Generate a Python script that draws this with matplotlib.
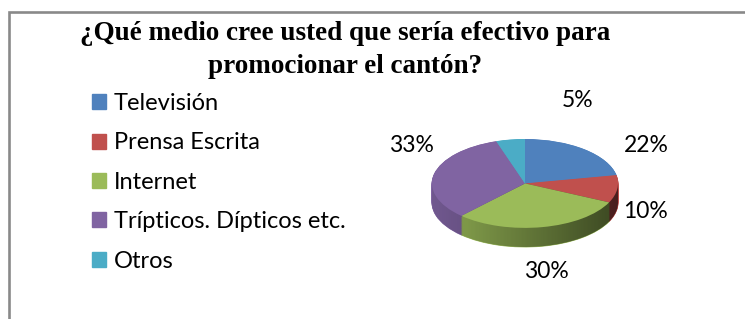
import matplotlib.pyplot as plt
import matplotlib.patches as mpatches
from matplotlib.path import Path
import numpy as np

# data
categorias = ['Televisión', 'Prensa Escrita', 'Internet', 'Trípticos. Dípticos etc.', 'Otros']
porcentajes = [22, 10, 30, 33, 5]
colores = ['#4F81BD', '#C0504D', '#9BBB59', '#8064A2', '#4BACC6']
titulo = '¿Qué medio cree usted que sería efectivo para\npromocionar el cantón?'

# label positions in pie units (layout only)
pos_etiquetas = [(1.30, 0.86), (1.30, -0.64), (0.23, -1.98), (-1.22, 0.86), (0.57, 1.86)]

fig = plt.figure(figsize=(7.45, 3.19), dpi=100)

# outer frame
fig.patches.append(mpatches.Rectangle((8.5 / 745, -0.2), 1.2, (319 - 11.5) / 319 + 0.2,
                                      transform=fig.transFigure, fill=False,
                                      edgecolor='#898989', linewidth=1.9))

fig.text(345 / 745, 1 - 50 / 319, titulo, ha='center', va='center', fontsize=19.5,
         fontweight='bold', family='Liberation Serif', linespacing=1.4)

# 3d-ish pie: ellipse axes
profundidad = 0.43
ax = fig.add_axes([432 / 745, (319 - 247) / 319, 186 / 745, 108 / 319])

capas = 30
for i in range(capas):
    cy = -profundidad + profundidad * i / capas
    ax.pie(porcentajes, colors=colores, startangle=90, counterclock=False,
           center=(0, cy), radius=1, wedgeprops=dict(linewidth=0.6))
    for w in ax.patches[-len(porcentajes):]:
        w.set_edgecolor(w.get_facecolor())

# shading of the side, lighter on the left, darker on the right
xs = np.linspace(-1, 1, 200)
alfa = np.interp(xs, [-1, -0.6, 1], [0.12, 0.2, 0.62])
grad = np.zeros((2, len(xs), 4))
grad[..., 3] = alfa
img = ax.imshow(grad, extent=(-1, 1, -1 - profundidad, 0), aspect='auto', zorder=1.5,
                interpolation='bilinear')
arc = np.linspace(0, np.pi, 100)
verts = [(-1, 0), (1, 0)] + [(np.cos(a), -profundidad - np.sin(a)) for a in arc] + [(-1, 0)]
clip = mpatches.PathPatch(Path(verts), transform=ax.transData, visible=False)
ax.add_patch(clip)
img.set_clip_path(clip)

wedges, textos, autot = ax.pie(porcentajes, colors=colores, startangle=90, counterclock=False,
                               center=(0, 0), radius=1, autopct='%d%%',
                               wedgeprops=dict(linewidth=0, zorder=2),
                               textprops=dict(fontsize=16.5, family='Lato', color='black'))
for t, p in zip(autot, pos_etiquetas):
    t.set_position(p)
    t.set_clip_on(False)

ax.set_aspect('auto')
ax.set_xlim(-1, 1)
ax.set_ylim(-1 - profundidad, 1)
ax.axis('off')

# legend
handles = [mpatches.Patch(color=c, label=l) for c, l in zip(colores, categorias)]
fig.legend(handles=handles, loc='upper left', bbox_to_anchor=(92 / 745, 1 - 93 / 319),
           frameon=False, prop=dict(family='Lato', size=17),
           handlelength=0.6, handleheight=0.6, handletextpad=0.33,
           labelspacing=0.78, borderpad=0, borderaxespad=0)

fig.savefig('out.png', dpi=100)
